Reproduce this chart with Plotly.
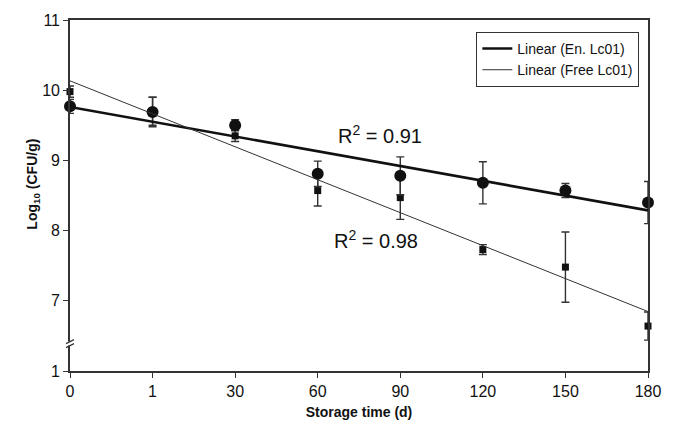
import numpy as np
import plotly.graph_objects as go

# Storage days (plotted as equally spaced categories)
days = ["0", "1", "30", "60", "90", "120", "150", "180"]

# Log10 CFU/g counts with standard deviations
en_lc01 = [9.77, 9.69, 9.50, 8.81, 8.78, 8.68, 8.57, 8.40]
en_sd = [0.10, 0.21, 0.08, 0.18, 0.27, 0.30, 0.10, 0.30]
free_lc01 = [9.98, 9.70, 9.35, 8.57, 8.47, 7.73, 7.48, 6.64]
free_sd = [0.08, 0.20, 0.08, 0.22, 0.31, 0.07, 0.50, 0.20]

# Y axis: 7..11 drawn to scale, with a break down to 1
y_tick_labels = ["1", "7", "8", "9", "10", "11"]
y_tick_pos = [6, 7, 8, 9, 10, 11]

x_idx = np.arange(len(days))


def fit(values):
    y = np.array(values)
    slope, intercept = np.polyfit(x_idx, y, 1)
    pred = slope * x_idx + intercept
    r2 = 1 - np.sum((y - pred) ** 2) / np.sum((y - y.mean()) ** 2)
    return slope, intercept, r2


en_fit = fit(en_lc01)
free_fit = fit(free_lc01)
x_line = np.array([x_idx[0], x_idx[-1]])

fig = go.Figure()

fig.add_trace(go.Scatter(
    x=x_idx, y=free_lc01, mode="markers", showlegend=False,
    marker=dict(symbol="square", size=7, color="#111"),
    error_y=dict(type="data", array=free_sd, color="#333", thickness=1.4, width=4),
    cliponaxis=False,
))
fig.add_trace(go.Scatter(
    x=x_idx, y=en_lc01, mode="markers", showlegend=False,
    marker=dict(symbol="circle", size=12, color="#111"),
    error_y=dict(type="data", array=en_sd, color="#333", thickness=1.4, width=4),
    cliponaxis=False,
))
fig.add_trace(go.Scatter(
    x=x_line, y=en_fit[0] * x_line + en_fit[1], mode="lines",
    name="Linear (En. Lc01)", line=dict(color="#111", width=2.6),
))
fig.add_trace(go.Scatter(
    x=x_line, y=free_fit[0] * x_line + free_fit[1], mode="lines",
    name="Linear (Free Lc01)", line=dict(color="#333", width=1),
))

annots = [
    dict(x=3.75, y=9.37, text=f"R<sup>2</sup> = {en_fit[2]:.2f}"),
    dict(x=3.70, y=7.87, text=f"R<sup>2</sup> = {free_fit[2]:.2f}"),
]
for a in annots:
    a.update(xref="x", yref="y", showarrow=False,
             font=dict(family="Liberation Sans, Arial", size=20, color="#111"))
annots.append(dict(
    xref="paper", yref="paper", x=-0.083, y=0.531, textangle=-90,
    text="<b>Log<sub>10</sub> (CFU/g)</b>", showarrow=False,
    font=dict(family="Liberation Sans, Arial", size=14, color="#111"),
))

# Axis break marks on the y axis
shapes = [
    dict(type="rect", xref="paper", yref="y", xsizemode="pixel", ysizemode="pixel",
         xanchor=0, yanchor=6.39, x0=-3, x1=3, y0=-2, y1=2,
         fillcolor="white", line=dict(width=0), layer="above"),
    dict(type="line", xref="paper", yref="y", xsizemode="pixel", ysizemode="pixel",
         xanchor=0, yanchor=6.39, x0=-4, x1=4, y0=-4, y1=0,
         line=dict(color="#333", width=1.2), layer="above"),
    dict(type="line", xref="paper", yref="y", xsizemode="pixel", ysizemode="pixel",
         xanchor=0, yanchor=6.39, x0=-4, x1=4, y0=0, y1=4,
         line=dict(color="#333", width=1.2), layer="above"),
]

fig.update_layout(
    width=674, height=430,
    margin=dict(l=70, r=26, t=17, b=57),
    paper_bgcolor="white", plot_bgcolor="white",
    font=dict(family="Liberation Sans, Arial", color="#111"),
    annotations=annots, shapes=shapes,
    legend=dict(
        x=0.703, y=0.966, xanchor="left", yanchor="top",
        bordercolor="#333", borderwidth=1, bgcolor="white",
        font=dict(size=14, color="#111"), itemwidth=30,
        tracegroupgap=0,
    ),
    xaxis=dict(
        range=[0, 7], tickvals=list(x_idx), ticktext=days,
        showgrid=False, zeroline=False, showline=True, linecolor="#333",
        linewidth=1.6, mirror=True, ticks="outside", ticklen=5, tickcolor="#333",
        tickfont=dict(size=16, color="#111"),
        title=dict(text="<b>Storage time (d)</b>", font=dict(size=14, color="#111"),
                   standoff=8),
    ),
    yaxis=dict(
        range=[6, 11], tickvals=y_tick_pos, ticktext=y_tick_labels,
        showgrid=False, zeroline=False, showline=True, linecolor="#333",
        linewidth=1.6, mirror=True, ticks="outside", ticklen=5, tickcolor="#333",
        tickfont=dict(size=16, color="#111"),
    ),
)

fig.write_html("out.html")
